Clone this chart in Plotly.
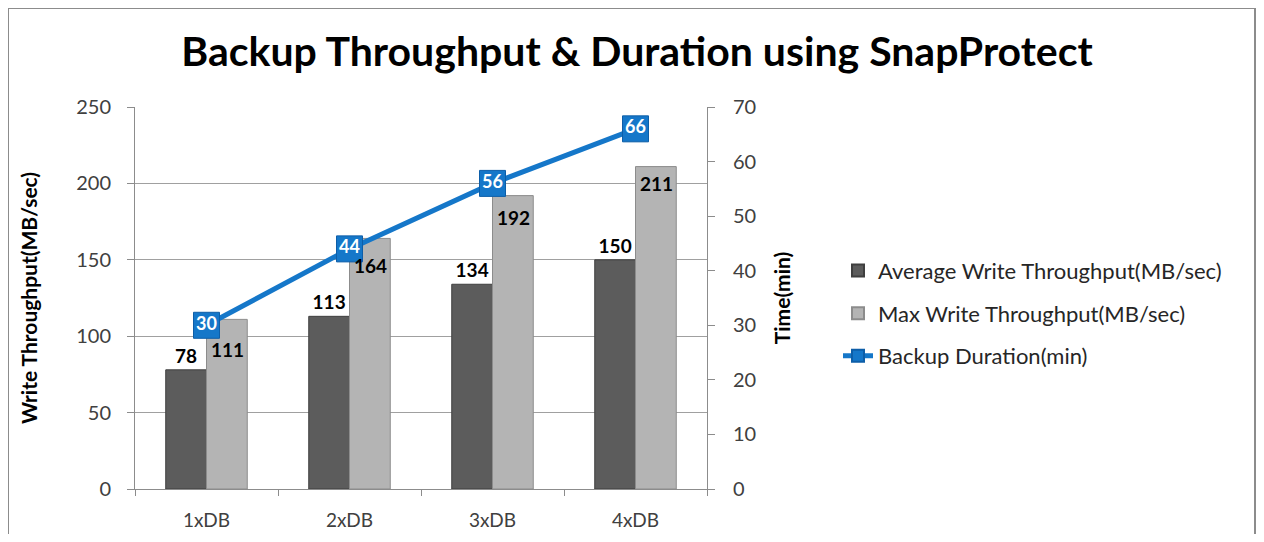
import plotly.graph_objects as go

categories = ["1xDB", "2xDB", "3xDB", "4xDB"]
avg_throughput = [78, 113, 134, 150]
max_throughput = [111, 164, 192, 211]
backup_duration = [30, 44, 56, 66]
left_ticks = [0, 50, 100, 150, 200, 250]
right_ticks = [0, 10, 20, 30, 40, 50, 60, 70]

# label placement offsets (pixels below the bar top) for the max-bar labels
max_label_drop = [30, 27, 22, 17]

FONT = "Lato, 'Open Sans', sans-serif"
tick_font = dict(family=FONT, size=20, color="#404040")

# figure sits inside a page with 8px body margin
W, H = 1248, 526
ML, MT = 127, 99
PW, PH = 572, 382

fig = go.Figure()
fig.add_trace(go.Bar(
    x=categories, y=avg_throughput, name="Average Write Throughput(MB/sec)",
    legendgroup="a",
    marker=dict(color="#5c5c5c", line=dict(color="#3f3f3f", width=1)),
    text=[str(v) for v in avg_throughput], textposition="outside",
    textfont=dict(family=FONT, size=19, color="black", weight="bold"),
    cliponaxis=False,
))
fig.add_trace(go.Bar(
    x=categories, y=max_throughput, name="Max Write Throughput(MB/sec)",
    legendgroup="b",
    marker=dict(color="#b4b4b4", line=dict(color="#8c8c8c", width=1)),
))
fig.add_trace(go.Scatter(
    x=categories, y=backup_duration, name="Backup Duration(min)", yaxis="y2",
    legendgroup="c",
    mode="lines+markers+text",
    line=dict(color="#1577c9", width=5),
    marker=dict(symbol="square", size=26, color="#1577c9", line=dict(color="#0d5ea8", width=1)),
    text=[str(v) for v in backup_duration], textposition="middle center",
    textfont=dict(family=FONT, size=18, color="white", weight="bold"),
    cliponaxis=False,
))

annotations = []
for cat, val, drop in zip(categories, max_throughput, max_label_drop):
    annotations.append(dict(
        x=cat, y=val, xref="x", yref="y", text=f"<b>{val}</b>", showarrow=False,
        xshift=21, yshift=-drop, yanchor="middle",
        font=dict(family=FONT, size=19, color="black"),
    ))

fig.update_layout(
    width=W, height=H,
    paper_bgcolor="white", plot_bgcolor="white",
    margin=dict(l=ML, r=W - ML - PW, t=MT, b=H - MT - PH),
    barmode="group", bargap=0.43, bargroupgap=0,
    title=dict(text="<b>Backup Throughput & Duration using SnapProtect</b>",
               x=(637 - 8) / W, xanchor="center", y=1 - 44 / H, yanchor="middle",
               font=dict(family=FONT, size=41, color="black")),
    xaxis=dict(showline=True, linecolor="#8c8c8c", linewidth=1,
               ticks="outside", ticklen=6, tickcolor="#8c8c8c", tickson="boundaries",
               tickfont=dict(family=FONT, size=19, color="#404040"),
               ticklabelstandoff=14, showgrid=False, automargin=False),
    yaxis=dict(range=[0, 250], tickvals=left_ticks, showline=True, linecolor="#8c8c8c",
               ticks="outside", ticklen=7, tickcolor="#8c8c8c",
               gridcolor="#a0a0a0", gridwidth=1, zeroline=False,
               tickfont=tick_font, ticklabelstandoff=12,
               title=dict(text="<b>Write Throughput(MB/sec)</b>", standoff=32,
                          font=dict(family=FONT, size=21, color="black"))),
    yaxis2=dict(range=[0, 70], tickvals=right_ticks, overlaying="y", side="right",
                showline=True, linecolor="#8c8c8c", ticks="outside", ticklen=7,
                tickcolor="#8c8c8c", showgrid=False, zeroline=False,
                tickfont=tick_font, ticklabelstandoff=14,
                title=dict(text="<b>Time(min)</b>", standoff=20,
                           font=dict(family=FONT, size=21, color="black"))),
    legend=dict(x=(830 - ML) / PW, y=0.46, xanchor="left", yanchor="middle",
                font=dict(family=FONT, size=22, color="#262626"),
                tracegroupgap=11, itemsizing="constant"),
    showlegend=True,
    annotations=annotations,
    shapes=[dict(type="rect", xref="paper", yref="paper",
                 x0=(0 - ML) / PW, x1=(W - 1 - ML) / PW,
                 y0=-0.3, y1=(MT + PH) / PH,
                 line=dict(color="#8c8c8c", width=2), layer="below")],
)

fig.write_html("out.html")
